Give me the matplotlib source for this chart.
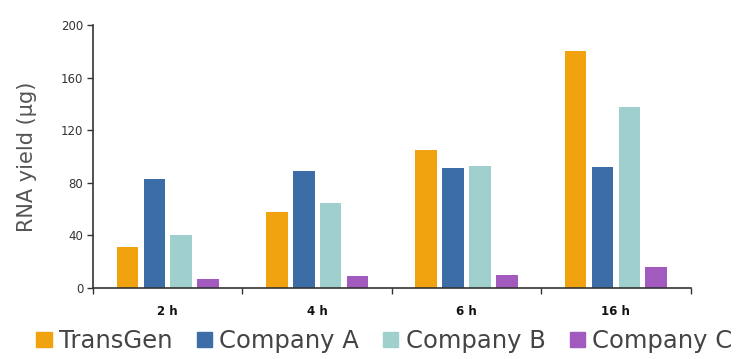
import numpy as np
import matplotlib
matplotlib.use('Agg')
import matplotlib.pyplot as plt
import matplotlib.patches as mpatches

# RNA yield per time point
times = ['2 h', '4 h', '6 h', '16 h']
companies = ['TransGen', 'Company A', 'Company B', 'Company C']
transgen = [31, 58, 105, 180]
company_a = [83, 89, 91, 92]
company_b = [40, 65, 93, 138]
company_c = [7, 9, 10, 16]
colors = ['#F0A30F', '#3C6DA6', '#9FD0CE', '#A25ABF']

plt.rcParams['font.family'] = ['DejaVu Sans']

fig = plt.figure(figsize=(7.45, 3.59), dpi=100)
ax = fig.add_axes([0.125, 0.198, 0.802, 0.732])

series = [transgen, company_a, company_b, company_c]
x = np.arange(len(times))
pitch = 0.18
width = 0.145
for i, vals in enumerate(series):
    ax.bar(x + (i - 1.5) * pitch, vals, width, color=colors[i])

ax.set_xlim(-0.5, len(times) - 0.5)
ax.set_ylim(0, 200)
ax.set_yticks([0, 40, 80, 120, 160, 200])
ax.tick_params(axis='y', labelsize=8.5, length=4, width=1, colors='#333333', pad=3)

# ticks between groups, labels under group centres
ax.set_xticks(np.arange(len(times) + 1) - 0.5)
ax.set_xticklabels([])
ax.tick_params(axis='x', which='major', length=4, width=1, colors='#333333')
ax.set_xticks(x, minor=True)
ax.set_xticklabels(times, minor=True, fontsize=8.5, fontweight='bold')
ax.tick_params(axis='x', which='minor', length=0, pad=12, colors='#111111')

for s in ['top', 'right']:
    ax.spines[s].set_visible(False)
for s in ['left', 'bottom']:
    ax.spines[s].set_color('#333333')
    ax.spines[s].set_linewidth(1.2)

ax.set_ylabel('RNA yield (μg)', fontsize=15, color='#555555', labelpad=17)

handles = [mpatches.Patch(color=c, label=n) for c, n in zip(colors, companies)]
fig.legend(handles=handles, loc='center', bbox_to_anchor=(0.516, 0.05), ncol=4,
           frameon=False, fontsize=17.5, handlelength=0.62, handleheight=0.62,
           handletextpad=0.3, columnspacing=1.0, labelcolor='#444444',
           borderpad=0)

fig.savefig('out.png', dpi=100)
